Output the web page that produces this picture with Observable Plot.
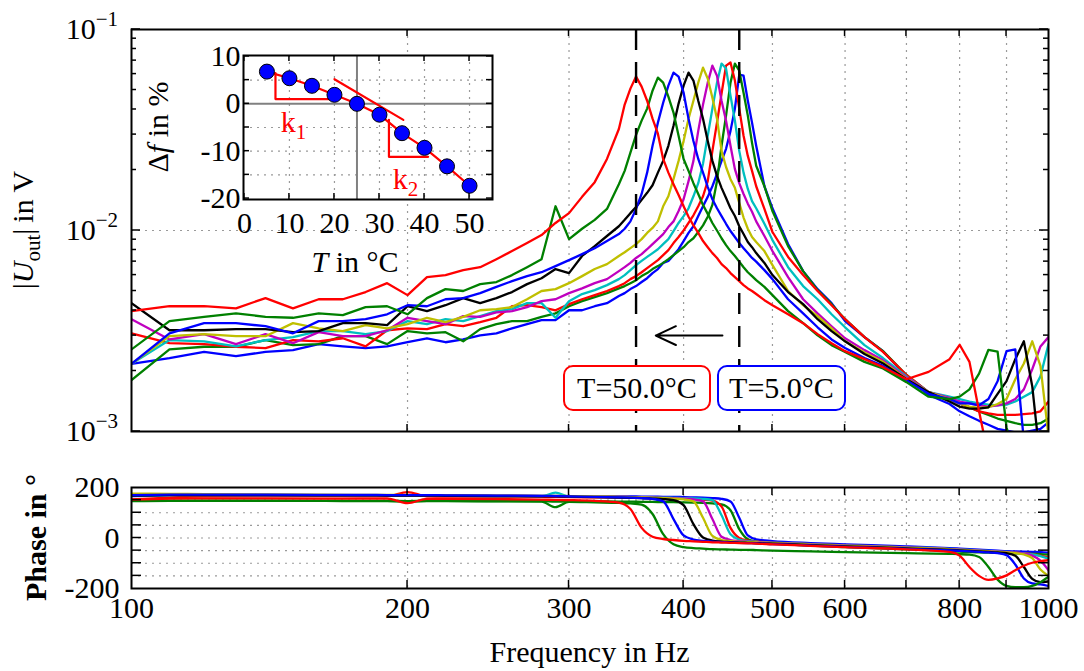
<!DOCTYPE html>
<html><head><meta charset="utf-8">
<script src="https://cdn.jsdelivr.net/npm/d3@7"></script>
<script src="https://cdn.jsdelivr.net/npm/@observablehq/plot@0.6"></script>
<style>
body{margin:0;background:#fff;overflow:hidden;}
#wrap{position:relative;width:1084px;height:671px;font-family:"Liberation Serif","Times New Roman",serif;}
.panel{position:absolute;}
.box{position:absolute;box-sizing:border-box;border:2px solid;border-radius:10px;background:#fff;font-size:30px;font-family:"Liberation Serif","Times New Roman",serif;display:flex;align-items:center;justify-content:center;color:#000;}
</style></head>
<body><div id="wrap"></div>
<script>
// ---------- DATA ----------
const temps = [5,10,15,20,25,30,35,40,45,50];
const colors = ["#0000ff","#008000","#ff0000","#00bfbf","#bf00bf","#bfbf00","#000000","#0000ff","#008000","#ff0000"];

// frequency grid of the magnitude curves (Hz)
const freqs = [100,110,120,130,140,150,160,170,180,190,200,210,220,230,240,250,260,270,280,290,300,310,320,330,340,
  345,350,355,360,365,370,375,380,385,390,395,400,405,410,415,420,425,430,435,440,445,450,455,460,465,470,475,480,
  490,500,520,540,560,580,600,630,660,700,740,780,800,820,840,860,880,900,920,940,960,980,1000];

// |U_out| in mV
const magT5 = [2.17,2.32,2.49,2.37,2.49,2.54,2.72,2.65,2.60,2.65,2.78,2.91,2.78,2.87,3.01,3.08,3.26,3.42,3.58,3.58,4.01,4.01,4.20,4.35,4.72,
  4.88,5.11,5.29,5.54,5.79,6.14,6.43,6.90,7.06,7.54,8.07,8.86,9.73,10.5,11.8,13.2,14.7,16.6,19.1,22.2,25.5,31.3,40.4,59.6,58.9,44.2,34.4,26.4,
  16.6,12.9,8.56,6.28,5.11,4.35,3.54,2.95,2.51,1.88,1.52,1.37,1.26,1.19,1.13,1.08,1.03,1.01,0.99,0.99,1.01,1.03,1.11];
const magT10 = [1.80,2.56,2.64,2.64,2.85,2.69,2.72,2.98,2.98,2.72,3.16,3.08,3.12,2.81,3.23,3.42,3.54,3.54,3.72,3.87,4.20,4.45,4.66,4.88,5.15,
  5.29,5.47,5.66,5.93,6.14,6.43,6.65,6.90,7.20,7.54,7.90,8.26,8.76,9.15,9.83,10.6,11.7,13.4,17.6,26.4,37.3,54.4,67.7,62.4,48.5,37.3,27.3,21.0,
  16.6,12.5,8.36,6.28,5.05,4.30,3.62,2.95,2.51,1.91,1.57,1.45,1.38,1.32,1.26,1.21,1.16,1.13,1.10,1.08,1.08,1.10,1.16];
const magT15 = [3.08,2.75,2.72,2.64,2.60,2.85,2.81,2.91,2.65,3.19,3.26,3.23,3.42,3.34,3.50,3.68,4.20,4.25,4.16,4.01,4.30,4.55,4.77,5.00,5.29,
  5.47,5.73,5.93,6.20,6.50,6.80,7.12,7.54,7.99,8.66,9.28,10.0,10.9,11.9,13.2,14.8,17.6,24.9,34.4,48.0,66.1,68.5,55.7,40.4,29.6,23.5,19.8,16.6,
  12.8,9.83,7.39,6.00,5.00,4.25,3.62,2.95,2.49,1.91,1.57,1.45,1.38,1.32,1.26,1.23,1.21,1.21,1.21,1.22,1.23,1.26,1.41];
const magT20 = [2.17,2.85,2.81,2.65,2.85,2.95,3.16,3.16,3.05,3.16,3.54,3.42,3.62,3.54,3.75,3.97,4.06,4.35,4.35,3.68,4.45,4.83,5.05,5.35,5.73,
  6.00,6.35,6.73,7.06,7.39,7.72,8.07,8.56,9.06,9.94,10.9,11.8,12.9,14.8,17.2,21.5,29.6,40.4,54.4,67.7,63.9,46.9,35.2,24.9,19.4,16.1,14.0,12.9,
  10.8,8.96,6.57,5.29,4.55,3.83,3.30,2.69,2.32,1.88,1.57,1.49,1.45,1.41,1.38,1.36,1.35,1.36,1.41,1.49,1.57,1.88,2.72];
const magT25 = [3.62,2.87,3.05,2.72,3.05,2.75,3.12,2.98,2.98,3.19,3.68,3.54,3.42,3.75,3.72,3.91,3.97,4.16,4.45,4.55,4.88,5.15,5.47,5.73,6.28,
  6.57,6.90,7.30,7.63,8.07,8.56,9.06,9.60,10.4,11.1,12.5,14.3,17.6,22.2,31.3,42.3,54.4,66.1,58.9,44.2,35.2,26.4,20.2,17.2,15.2,13.6,12.4,11.1,
  9.39,7.90,5.86,4.55,3.87,3.34,2.91,2.54,2.26,1.86,1.57,1.47,1.41,1.38,1.35,1.33,1.35,1.38,1.45,1.62,2.04,2.65,2.95];
const magT30 = [2.17,2.98,3.05,2.98,2.98,3.46,3.26,3.16,3.38,3.26,3.42,3.68,3.50,3.72,4.01,4.06,4.16,4.55,5.00,5.11,5.47,5.93,6.43,6.80,7.47,
  7.80,8.17,8.56,9.06,9.73,10.3,11.1,13.2,14.8,18.0,22.2,27.9,36.0,44.2,54.4,64.6,57.0,45.8,36.0,24.9,20.7,18.0,16.3,13.7,11.6,10.2,9.28,8.76,
  7.90,6.73,5.00,4.25,3.75,3.26,2.81,2.47,2.22,1.83,1.57,1.45,1.38,1.33,1.31,1.32,1.37,1.45,1.82,2.18,2.81,2.12,0.95];
const magT35 = [4.35,3.19,3.19,3.23,3.23,3.12,3.16,3.46,3.46,3.38,4.20,3.97,4.25,4.61,4.35,4.61,4.94,5.41,5.79,6.43,6.14,7.47,8.36,9.39,10.5,
  11.3,12.2,13.1,14.2,15.4,16.8,19.4,22.2,26.4,33.2,42.8,52.6,61.0,55.7,44.2,36.0,27.9,22.2,18.7,16.3,14.5,12.9,11.8,10.5,9.60,8.76,8.26,7.72,
  6.90,6.00,4.94,4.30,3.62,3.16,2.81,2.43,2.18,1.82,1.57,1.41,1.33,1.30,1.30,1.32,1.54,1.78,2.29,2.81,1.68,0.70,0.60];
const magT40 = [2.17,3.08,3.46,3.46,3.34,3.08,3.54,3.54,3.62,3.83,4.25,4.20,4.55,4.61,4.88,5.24,5.60,5.93,6.20,6.65,7.12,7.63,8.17,8.86,9.60,
  10.2,11.1,12.8,15.2,19.4,26.4,34.4,43.2,52.6,61.0,58.3,48.5,36.0,27.9,22.7,19.4,16.5,14.3,12.9,11.8,10.8,9.94,9.28,8.66,8.17,7.72,7.30,7.00,
  6.35,5.73,4.55,3.87,3.30,2.87,2.60,2.32,2.12,1.80,1.54,1.45,1.38,1.38,1.35,1.45,1.78,2.51,2.56,0.90,0.70,0.70,0.70];
const magT45 = [2.56,3.54,3.72,3.87,3.72,3.68,3.87,3.79,4.16,4.20,3.83,4.61,5.11,5.00,5.41,5.54,6.00,6.57,7.20,13.2,9.06,10.2,11.3,12.8,17.0,
  19.8,24.4,29.9,35.2,40.4,49.6,57.6,54.4,46.3,38.6,29.6,22.7,19.8,17.2,15.2,13.4,12.1,10.9,10.0,9.15,8.46,7.90,7.47,7.00,6.57,6.20,5.93,5.66,
  5.24,4.77,3.97,3.46,3.01,2.69,2.49,2.22,2.06,1.76,1.49,1.45,1.49,1.62,1.94,2.55,2.50,1.05,0.70,0.70,0.70,0.70,0.70];
const magT50 = [3.97,4.20,4.20,4.10,4.61,4.10,4.55,4.55,4.94,5.47,4.77,5.86,6.00,6.35,6.57,7.20,7.90,8.66,9.49,10.9,12.2,14.7,17.4,22.7,32.0,
  42.3,50.8,58.3,52.0,44.2,36.0,30.3,22.7,19.4,17.0,15.0,13.2,11.7,10.6,9.73,8.86,8.26,7.72,7.30,6.80,6.50,6.14,5.86,5.60,5.35,5.15,5.00,4.83,
  4.50,4.25,3.83,3.46,3.05,2.75,2.51,2.29,2.09,1.82,1.98,2.29,2.70,2.22,1.26,0.75,0.60,0.60,0.60,0.60,0.60,0.60,0.60];

// frequency grid of the phase curves (Hz)
const phaseFreqs = [100,110,120,140,160,180,190,200,210,220,250,280,290,300,320,340,350,360,370,380,390,400,410,420,430,440,450,460,470,480,
  500,550,600,700,780,800,820,840,860,880,900,920,940,960,980,1000];
// phase in degrees
const phT5  = [166,170,171,171,170,170,170,170,169,169,168,167,167,166,166,165,165,164,164,163,163,162,161,160,158,155,145,80,10,-5,-12,-20,-25,-33,-40,-42,-44,-46,-48,-50,-52,-53,-54,-55,-56,-58];
const phT10 = [148,148,148,148,147,147,147,146,147,147,146,146,144,145,145,144,144,143,143,142,142,141,140,139,137,133,110,35,-5,-14,-20,-30,-36,-45,-52,-54,-56,-57,-58,-59,-60,-61,-62,-63,-64,-66];
const phT15 = [153,160,165,166,166,165,165,182,165,164,164,163,163,162,161,160,160,159,158,157,156,155,154,152,148,125,40,0,-10,-14,-18,-24,-29,-37,-44,-46,-48,-50,-52,-54,-56,-58,-60,-64,-70,-78];
const phT20 = [168,170,170,169,169,168,168,168,167,167,166,165,180,164,163,162,162,161,160,160,159,158,157,155,150,90,15,-6,-12,-15,-18,-24,-29,-37,-43,-45,-47,-49,-51,-53,-55,-58,-61,-65,-72,-82];
const phT25 = [170,171,171,170,170,169,169,169,168,168,167,166,166,165,164,163,162,161,160,159,158,156,153,145,75,5,-8,-12,-14,-16,-19,-25,-30,-38,-44,-46,-48,-50,-52,-54,-56,-58,-62,-70,-90,-128];
const phT30 = [176,175,174,173,172,171,171,170,170,169,168,167,167,166,165,163,162,161,160,158,156,153,145,80,8,-8,-12,-15,-16,-17,-20,-26,-31,-39,-45,-47,-49,-51,-53,-55,-57,-60,-65,-80,-125,-150];
const phT35 = [168,170,170,170,169,169,168,168,168,167,166,165,165,164,162,160,159,158,156,154,150,130,55,2,-10,-14,-16,-18,-19,-20,-22,-28,-33,-41,-47,-49,-51,-53,-55,-57,-60,-70,-115,-162,-175,-172];
const phT40 = [170,172,172,172,171,171,170,170,170,169,168,167,166,165,163,161,160,158,155,145,75,10,-6,-11,-14,-16,-18,-19,-20,-21,-24,-30,-35,-43,-49,-51,-53,-55,-57,-60,-68,-105,-160,-180,-184,-190];
const phT45 = [146,147,147,147,147,146,146,145,146,146,145,144,122,143,141,139,137,132,95,15,-25,-36,-40,-42,-44,-45,-46,-47,-47,-48,-50,-53,-56,-60,-63,-64,-66,-75,-115,-165,-190,-195,-195,-190,-175,-153];
const phT50 = [152,156,157,157,156,156,156,138,155,155,154,152,151,150,147,140,115,40,5,-4,-8,-11,-13,-15,-17,-18,-19,-20,-21,-22,-25,-31,-36,-45,-55,-70,-115,-150,-166,-160,-148,-128,-110,-98,-92,-88];

// inset: frequency shift vs temperature
const insetT  = [5,10,15,20,25,30,35,40,45,50];
const insetDf = [6.8,5.4,3.8,1.9,0,-2.3,-6.2,-9.3,-13.2,-17.3];
const tangentT = [20,35.3], tangentDf = [5.2,-3.4];
const k1TriT = [6.9,6.9,18.8], k1TriDf = [6.5,1.0,1.0];
const k2TriT = [32.1,32.1,40.8], k2TriDf = [-3.4,-11.2,-11.2];

// ticks / labels
const gridX = [200,300,400,500,600,700,800,900];
const xTickLabels = [100,200,300,400,500,600,800,1000];
const yMajor = [1e-3,1e-2,1e-1];
const phaseTicks = [-200,0,200];
const phaseGrid = [-150,-100,-50,0,50,100,150];
const insetXTicks = [0,10,20,30,40,50];
const insetYTicks = [-20,-10,0,10];

// ---------- BUILD ----------
const mags = [magT5,magT10,magT15,magT20,magT25,magT30,magT35,magT40,magT45,magT50];
const phases = [phT5,phT10,phT15,phT20,phT25,phT30,phT35,phT40,phT45,phT50];
const series = temps.map((T,i)=>({T, color:colors[i], mag:mags[i], ph:phases[i]}));
const magRows = s => freqs.map((f,j)=>({f, v:s.mag[j]/1000}));
const phRows = s => phaseFreqs.map((f,j)=>({f, p:s.ph[j]}));
const peakF = s => freqs[d3.maxIndex(s.mag)];
const sHot = series[series.length-1], sCold = series[0];

const font = '"Liberation Serif","Times New Roman",serif';
const gridStyle = {stroke:"#9a9a9a", strokeDasharray:"2,5", strokeWidth:1.2};
const LW = 2.3;
const wrap = document.getElementById("wrap");
function place(svg, left, top, w, h){
  const d = document.createElement("div"); d.className="panel";
  d.style.left=left+"px"; d.style.top=top+"px"; d.style.width=w+"px"; d.style.height=h+"px";
  d.appendChild(svg); wrap.appendChild(d);
}
function addLine(sel,x1,y1,x2,y2,w=1.5,c="black"){
  sel.append("line").attr("x1",x1).attr("y1",y1).attr("x2",x2).attr("y2",y2).attr("stroke",c).attr("stroke-width",w);
}

// ---- main magnitude chart ----
const main = Plot.plot({
  width:1084, height:455, marginLeft:131, marginRight:36, marginTop:29, marginBottom:24,
  x:{type:"log", domain:[100,1000], axis:null},
  y:{type:"log", domain:[1e-3,1e-1], axis:null},
  style:{fontFamily:font, background:"transparent", overflow:"visible"},
  marks:[
    Plot.ruleX(gridX, gridStyle),
    Plot.ruleY([1e-2], gridStyle),
    ...series.map(s => Plot.line(magRows(s), {x:"f", y:"v", stroke:s.color, strokeWidth:LW, clip:true})),
    Plot.ruleX([peakF(sHot), peakF(sCold)], {stroke:"black", strokeWidth:2.4, strokeDasharray:"21,12"}),
    Plot.arrow([{from:441, to:373, v:3.0e-3}], {x1:"from", x2:"to", y1:"v", y2:"v", stroke:"black", strokeWidth:2, headLength:17, headAngle:50}),
    Plot.frame({stroke:"black", strokeWidth:2})
  ]
});
place(main, 0, 0, 1084, 455);
{
  const sx = main.scale("x"), sy = main.scale("y");
  const L = sx.apply(100), R = sx.apply(1000), T0 = sy.apply(1e-1), B0 = sy.apply(1e-3);
  const g = d3.select(main).append("g");
  gridX.forEach(f=>{const x=sx.apply(f); addLine(g,x,B0,x,B0-7); addLine(g,x,T0,x,T0+7);});
  yMajor.forEach(v=>{const y=sy.apply(v); addLine(g,L,y,L+9,y); addLine(g,R,y,R-9,y);});
  [1e-3,1e-2].forEach(d=>d3.range(2,10).forEach(m=>{const y=sy.apply(m*d); addLine(g,L,y,L+5,y); addLine(g,R,y,R-5,y);}));
  yMajor.forEach(v=>{
    const t = g.append("text").attr("x",L-13).attr("y",sy.apply(v)+10).attr("text-anchor","end")
      .attr("font-size",30).attr("font-family",font).attr("fill","black");
    t.append("tspan").text("10");
    t.append("tspan").attr("dy",-13).attr("font-size",21).text("\u2212"+Math.round(-Math.log10(v)));
  });
  const yl = g.append("text").attr("transform",`translate(33,${(T0+B0)/2}) rotate(-90)`).attr("text-anchor","middle")
    .attr("font-size",30).attr("font-family",font).attr("fill","black");
  yl.append("tspan").text("|");
  yl.append("tspan").attr("font-style","italic").text("U");
  yl.append("tspan").attr("font-size",21).attr("dy",7).text("out");
  yl.append("tspan").attr("dy",-7).text("|\u2009in V");
}

// ---- phase chart ----
const hy = v => v<0 ? "-"+Math.abs(v) : String(v);
const lower = Plot.plot({
  width:1084, height:211, marginLeft:131, marginRight:36, marginTop:27, marginBottom:83,
  x:{type:"log", domain:[100,1000]},
  y:{domain:[-200,200]},
  style:{fontFamily:font, background:"transparent", overflow:"visible"},
  marks:[
    Plot.ruleX(gridX, gridStyle),
    Plot.ruleY(phaseGrid, gridStyle),
    ...series.map(s => Plot.line(phRows(s), {x:"f", y:"p", stroke:s.color, strokeWidth:LW, curve:"monotone-x", clip:true})),
    Plot.frame({stroke:"black", strokeWidth:2}),
    Plot.axisX(xTickLabels, {tickSize:0, tickPadding:8, fontSize:30, label:null, tickFormat:d=>String(d)}),
    Plot.axisY(phaseTicks, {tickSize:0, tickPadding:12, fontSize:30, label:null, tickFormat:hy})
  ]
});
place(lower, 0, 460, 1084, 211);
{
  const sx = lower.scale("x"), sy = lower.scale("y");
  const L = sx.apply(100), R = sx.apply(1000), T0 = sy.apply(200), B0 = sy.apply(-200);
  const g = d3.select(lower).append("g");
  gridX.forEach(f=>{const x=sx.apply(f); addLine(g,x,B0,x,B0-8); addLine(g,x,T0,x,T0+8);});
  phaseGrid.forEach(v=>{const y=sy.apply(v); addLine(g,L,y,L+10,y); addLine(g,R,y,R-10,y);});
  g.append("text").attr("transform",`translate(46,${(T0+B0)/2}) rotate(-90)`).attr("text-anchor","middle")
    .attr("font-size",30).attr("font-weight","bold").attr("font-family",font).attr("fill","black").text("Phase in \u00b0");
  g.append("text").attr("x",(L+R)/2).attr("y",202).attr("text-anchor","middle")
    .attr("font-size",30).attr("font-family",font).attr("fill","black").text("Frequency in Hz");
}

// ---- inset ----
const insetRows = insetT.map((T,i)=>({T, df:insetDf[i]}));
const pairs = (a,b)=>a.map((x,i)=>({T:x, df:b[i]}));
const inset = Plot.plot({
  width:340, height:250, marginLeft:83, marginRight:8, marginTop:25, marginBottom:81,
  x:{domain:[-0.2,55.1]}, y:{domain:[-20.2,10.2]},
  style:{fontFamily:font, background:"transparent", overflow:"visible"},
  marks:[
    Plot.frame({fill:"white"}),
    Plot.ruleX([10,20,30,40,50], gridStyle),
    Plot.ruleY([-15,-10,-5,5], gridStyle),
    Plot.ruleX([25], {stroke:"#808080", strokeWidth:2}),
    Plot.ruleY([0], {stroke:"#808080", strokeWidth:2}),
    Plot.line(insetRows, {x:"T", y:"df", stroke:"red", strokeWidth:2.2}),
    Plot.line(pairs(tangentT,tangentDf), {x:"T", y:"df", stroke:"red", strokeWidth:2.2}),
    Plot.line(pairs(k1TriT,k1TriDf), {x:"T", y:"df", stroke:"red", strokeWidth:2.2}),
    Plot.line(pairs(k2TriT,k2TriDf), {x:"T", y:"df", stroke:"red", strokeWidth:2.2}),
    Plot.dot(insetRows, {x:"T", y:"df", r:7.5, fill:"#0000ff", stroke:"black", strokeWidth:1}),
    Plot.frame({stroke:"black", strokeWidth:2}),
    Plot.axisX(insetXTicks, {tickSize:0, tickPadding:12, fontSize:30, label:null, tickFormat:d=>String(d)}),
    Plot.axisY(insetYTicks, {tickSize:0, tickPadding:3, fontSize:30, label:null, tickFormat:hy})
  ]
});
place(inset, 160, 30, 340, 250);
{
  const sx = inset.scale("x"), sy = inset.scale("y");
  const L = sx.apply(-0.2), R = sx.apply(55.1), T0 = sy.apply(10.2), B0 = sy.apply(-20.2);
  const g = d3.select(inset).append("g");
  [0,10,20,30,40,50].forEach(v=>{const x=sx.apply(v); addLine(g,x,B0,x,B0-6); addLine(g,x,T0,x,T0+6);});
  [-20,-15,-10,-5,0,5,10].forEach(v=>{const y=sy.apply(v); addLine(g,L,y,L+6,y); addLine(g,R,y,R-6,y);});
  const klab = (T,df,n)=>{
    const t = g.append("text").attr("x",sx.apply(T)).attr("y",sy.apply(df)+10).attr("text-anchor","middle")
      .attr("font-size",30).attr("font-family",font).attr("fill","red");
    t.append("tspan").text("k"); t.append("tspan").attr("font-size",21).attr("dy",7).text(n);
  };
  klab(11,-3.9,"1"); klab(35.9,-15.9,"2");
  const yl = g.append("text").attr("transform",`translate(8,${(T0+B0)/2}) rotate(-90)`).attr("text-anchor","middle")
    .attr("font-size",30).attr("font-family",font).attr("fill","black");
  yl.append("tspan").text("\u0394");
  yl.append("tspan").attr("font-style","italic").text("f");
  yl.append("tspan").text(" in %");
  const xl = g.append("text").attr("x",195).attr("y",242).attr("text-anchor","middle")
    .attr("font-size",30).attr("font-family",font).attr("fill","black");
  xl.append("tspan").attr("font-style","italic").text("T");
  xl.append("tspan").text(" in \u00b0C");
}

// ---- temperature boxes ----
function box(text, color, left, top, w, h){
  const d = document.createElement("div"); d.className="box";
  d.style.borderColor=color; d.style.left=left+"px"; d.style.top=top+"px"; d.style.width=w+"px"; d.style.height=h+"px";
  d.textContent=text; wrap.appendChild(d);
}
box("T=" + sHot.T.toFixed(1) + "\u00b0C", "#ff0000", 563, 365, 148, 46);
box("T=" + sCold.T.toFixed(1) + "\u00b0C", "#0000ff", 717, 365, 129, 46);
</script>
</body></html>
